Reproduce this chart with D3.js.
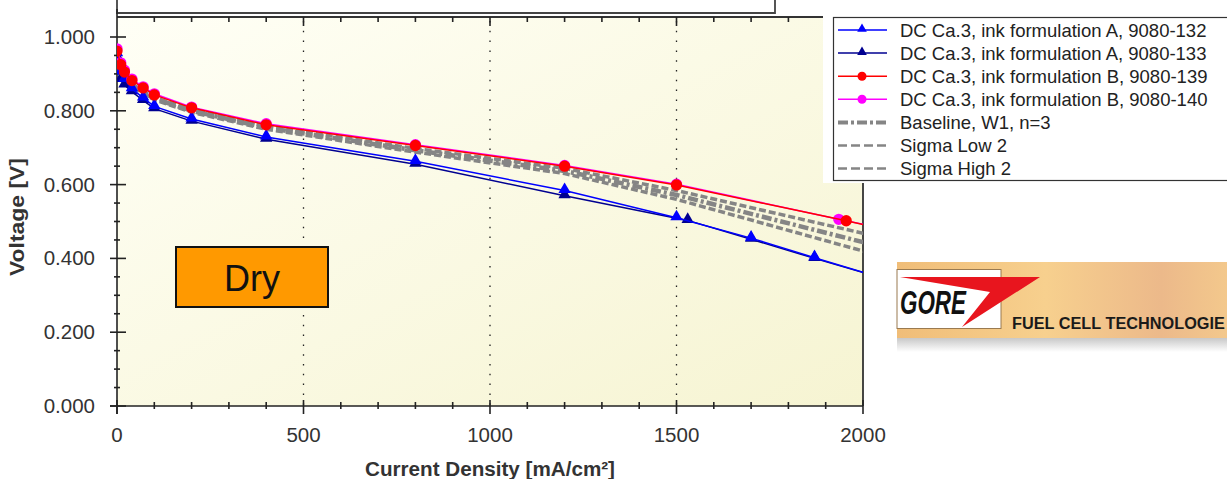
<!DOCTYPE html>
<html>
<head>
<meta charset="utf-8">
<script src="https://cdn.jsdelivr.net/npm/d3@7"></script>
<style>
  html, body { margin: 0; padding: 0; background: #fff; }
  svg { display: block; font-family: "Liberation Sans", Arial, sans-serif; }
</style>
</head>
<body>
<div id="chart"></div>
<script>
(function () {
  "use strict";

  // current density points [mA/cm2]
  const xA132 = [0, 10, 20, 40, 70, 100, 200, 400, 800, 1200, 1500, 1700, 1870, 2040];
  const vA132 = [0.955, 0.905, 0.885, 0.860, 0.835, 0.812, 0.778, 0.729, 0.663, 0.584, 0.510, 0.455, 0.402, 0.350];
  const xA133 = [0, 10, 20, 40, 70, 100, 200, 400, 800, 1200, 1530, 1700, 1870, 2040];
  const vA133 = [0.945, 0.885, 0.870, 0.852, 0.828, 0.806, 0.772, 0.723, 0.655, 0.570, 0.503, 0.452, 0.400, 0.350];
  const xB139 = [0, 10, 20, 40, 70, 100, 200, 400, 800, 1200, 1500, 1955, 2100];
  const vB139 = [0.962, 0.925, 0.905, 0.882, 0.862, 0.843, 0.808, 0.762, 0.706, 0.650, 0.599, 0.502, 0.470];
  const xB140 = [0, 10, 20, 40, 70, 100, 200, 400, 800, 1200, 1500, 1935, 2100];
  const vB140 = [0.968, 0.930, 0.910, 0.886, 0.865, 0.846, 0.810, 0.765, 0.708, 0.652, 0.601, 0.506, 0.472];
  const xBase = [0, 10, 20, 40, 70, 100, 200, 400, 800, 1200, 1500, 2000, 2100];
  const vBase = [0.962, 0.912, 0.893, 0.870, 0.850, 0.833, 0.800, 0.754, 0.693, 0.637, 0.572, 0.444, 0.418];
  const vSigLow = [0.959, 0.909, 0.890, 0.867, 0.847, 0.830, 0.796, 0.750, 0.688, 0.630, 0.560, 0.420, 0.390];
  const vSigHigh = [0.965, 0.915, 0.896, 0.873, 0.853, 0.836, 0.804, 0.758, 0.698, 0.644, 0.584, 0.468, 0.446];

  const xTicks = [0, 500, 1000, 1500, 2000];
  const yTicks = [0, 0.2, 0.4, 0.6, 0.8, 1.0];
  const legendLabels = [
    "DC Ca.3, ink formulation A, 9080-132",
    "DC Ca.3, ink formulation A, 9080-133",
    "DC Ca.3, ink formulation B, 9080-139",
    "DC Ca.3, ink formulation B, 9080-140",
    "Baseline, W1, n=3",
    "Sigma Low 2",
    "Sigma High 2"
  ];

  const width = 1227, height = 479;
  const left = 117, right = 863, top = 17, bottom = 406;

  const x = d3.scaleLinear().domain([0, 2000]).range([left, right]);
  const y = d3.scaleLinear().domain([0, 1]).range([bottom, 37]);

  const svg = d3.select("#chart").append("svg")
    .attr("width", width).attr("height", height);

  const defs = svg.append("defs");
  const bg = defs.append("linearGradient").attr("id", "plotbg")
    .attr("x1", "0").attr("y1", "0").attr("x2", "1").attr("y2", "1");
  bg.append("stop").attr("offset", "0").attr("stop-color", "#fffff6");
  bg.append("stop").attr("offset", "1").attr("stop-color", "#f6f4d2");
  defs.append("clipPath").attr("id", "plotclip").append("rect")
    .attr("x", left).attr("y", top).attr("width", right - left).attr("height", bottom - top);

  // plot background
  svg.append("rect").attr("x", left).attr("y", top)
    .attr("width", right - left).attr("height", bottom - top)
    .attr("fill", "url(#plotbg)");

  // dotted grid lines
  svg.append("g").selectAll("line").data([500, 1000, 1500]).join("line")
    .attr("x1", (d) => x(d)).attr("x2", (d) => x(d))
    .attr("y1", top + 4).attr("y2", bottom)
    .attr("stroke", "#222").attr("stroke-width", 1.3)
    .attr("stroke-dasharray", "1.5,8.3");

  // frame of the overlapping box at the top
  svg.append("path").attr("d", `M${left},0V13H775V0`)
    .attr("fill", "none").attr("stroke", "#444").attr("stroke-width", 1.8);

  // plot frame
  svg.append("path").attr("d", `M${left},${top}H${right}V${bottom}`)
    .attr("fill", "none").attr("stroke", "#333").attr("stroke-width", 1.8);

  // axes
  const axisG = svg.append("g").attr("stroke", "#222").attr("stroke-width", 1.6);
  axisG.append("line").attr("x1", left).attr("x2", left).attr("y1", top - 8).attr("y2", bottom + 8);
  axisG.append("line").attr("x1", left - 7).attr("x2", right).attr("y1", bottom).attr("y2", bottom);

  const xMinor = d3.range(0, 2001, 100);
  axisG.selectAll(".xt").data(xMinor).join("line")
    .attr("x1", (d) => x(d)).attr("x2", (d) => x(d))
    .attr("y1", (d) => (d % 500 === 0 ? bottom - 6 : bottom - 4))
    .attr("y2", (d) => (d % 500 === 0 ? bottom + 8 : bottom + 3));
  axisG.selectAll(".xtt").data(xMinor.filter((d) => d > 0 && d < 2000)).join("line")
    .attr("x1", (d) => x(d)).attr("x2", (d) => x(d))
    .attr("y1", top)
    .attr("y2", (d) => (d % 500 === 0 ? top + 9 : top + 5));

  const yMinor = d3.range(0, 21).map((i) => i * 0.05);
  axisG.selectAll(".yt").data(yMinor).join("line")
    .attr("y1", (d) => y(d)).attr("y2", (d) => y(d))
    .attr("x1", (d, i) => (i % 4 === 0 ? left - 7 : left - 3))
    .attr("x2", (d, i) => (i % 4 === 0 ? left + 9 : left + 3));

  svg.append("g").selectAll("text").data(xTicks).join("text")
    .attr("x", (d) => x(d)).attr("y", 442)
    .attr("text-anchor", "middle").attr("font-size", 20.5).attr("fill", "#333")
    .text((d) => d);
  svg.append("g").selectAll("text").data(yTicks).join("text")
    .attr("x", 95).attr("y", (d) => y(d) + 7)
    .attr("text-anchor", "end").attr("font-size", 20.5).attr("fill", "#333")
    .text((d) => d.toFixed(3));

  svg.append("text").attr("x", 490).attr("y", 476)
    .attr("text-anchor", "middle").attr("font-size", 20).attr("font-weight", "bold")
    .attr("textLength", 250).attr("lengthAdjust", "spacingAndGlyphs")
    .attr("fill", "#333").text("Current Density [mA/cm²]");
  svg.append("text").attr("transform", "translate(24,217) rotate(-90)")
    .attr("text-anchor", "middle").attr("font-size", 20).attr("font-weight", "bold")
    .attr("textLength", 118).attr("lengthAdjust", "spacingAndGlyphs")
    .attr("fill", "#333").text("Voltage [V]");

  // series
  const line = d3.line().x((d) => x(d[0])).y((d) => y(d[1]));
  const plot = svg.append("g").attr("clip-path", "url(#plotclip)");
  const zip = (xs, vs) => xs.map((d, i) => [d, vs[i]]);

  const grayLines = [
    { data: zip(xBase, vSigLow), dash: "7,3", w: 3.5 },
    { data: zip(xBase, vSigHigh), dash: "7,3", w: 3.5 },
    { data: zip(xBase, vBase), dash: "10,3,3,3", w: 4.5 }
  ];
  plot.selectAll(".gray").data(grayLines).join("path")
    .attr("d", (d) => line(d.data))
    .attr("fill", "none").attr("stroke", "#858585")
    .attr("stroke-width", (d) => d.w).attr("stroke-dasharray", (d) => d.dash);

  const series = [
    { data: zip(xA133, vA133), color: "#000090", marker: "tri" },
    { data: zip(xA132, vA132), color: "#0000ff", marker: "tri" },
    { data: zip(xB140, vB140), color: "#ff00ff", marker: "dot" },
    { data: zip(xB139, vB139), color: "#ff0000", marker: "dot" }
  ];
  const tri = d3.symbol().type(d3.symbolTriangle).size(66);

  series.forEach((s) => {
    plot.append("path").attr("d", line(s.data))
      .attr("fill", "none").attr("stroke", s.color).attr("stroke-width", 1.5);
    const m = plot.append("g").selectAll("path").data(s.data).join("path")
      .attr("fill", s.color);
    if (s.marker === "tri") {
      m.attr("d", tri).attr("transform", (d) => `translate(${x(d[0])},${y(d[1]) - 1})`);
    } else {
      m.attr("d", d3.symbol().type(d3.symbolCircle).size(100))
        .attr("transform", (d) => `translate(${x(d[0])},${y(d[1])})`);
    }
  });

  // Dry label
  svg.append("rect").attr("x", 176).attr("y", 247).attr("width", 152).attr("height", 60)
    .attr("fill", "#ff9900").attr("stroke", "#111").attr("stroke-width", 2);
  svg.append("text").attr("x", 252).attr("y", 291).attr("text-anchor", "middle")
    .attr("font-size", 36).attr("fill", "#111").text("Dry");

  // legend
  svg.append("rect").attr("x", 823).attr("y", 0).attr("width", 404).attr("height", 183).attr("fill", "#fff");
  svg.append("rect").attr("x", 833.5).attr("y", 17.5).attr("width", 420).attr("height", 163)
    .attr("fill", "#fff").attr("stroke", "#333").attr("stroke-width", 1.2);
  const legendStyle = [
    { color: "#0000ff", marker: "tri", dash: null, w: 1.5 },
    { color: "#000090", marker: "tri", dash: null, w: 1.5 },
    { color: "#ff0000", marker: "dot", dash: null, w: 1.5 },
    { color: "#ff00ff", marker: "dot", dash: null, w: 1.5 },
    { color: "#858585", marker: null, dash: "10,3,3,3", w: 4 },
    { color: "#858585", marker: null, dash: "9,4", w: 2.5 },
    { color: "#858585", marker: null, dash: "9,4", w: 2.5 }
  ];
  const lg = svg.append("g").selectAll("g").data(legendLabels).join("g")
    .attr("transform", (d, i) => `translate(0,${30 + i * 23.1})`);
  lg.append("line").attr("x1", 838).attr("x2", 887).attr("y1", 0).attr("y2", 0)
    .attr("stroke", (d, i) => legendStyle[i].color)
    .attr("stroke-width", (d, i) => legendStyle[i].w)
    .attr("stroke-dasharray", (d, i) => legendStyle[i].dash);
  lg.filter((d, i) => legendStyle[i].marker === "tri").append("path")
    .attr("d", d3.symbol().type(d3.symbolTriangle).size(40))
    .attr("transform", "translate(862,-1)")
    .attr("fill", (d) => legendStyle[legendLabels.indexOf(d)].color);
  lg.filter((d, i) => legendStyle[i].marker === "dot").append("circle")
    .attr("cx", 862).attr("cy", 0).attr("r", 4.5)
    .attr("fill", (d) => legendStyle[legendLabels.indexOf(d)].color);
  lg.append("text").attr("x", 900).attr("y", 6.5)
    .attr("font-size", 18.5).attr("fill", "#222").text((d) => d);

  // GORE logo banner
  const band = defs.append("linearGradient").attr("id", "band")
    .attr("x1", "0").attr("y1", "0").attr("x2", "1").attr("y2", "0");
  band.append("stop").attr("offset", "0").attr("stop-color", "#f0bd78");
  band.append("stop").attr("offset", "0.45").attr("stop-color", "#f7d08e");
  band.append("stop").attr("offset", "0.8").attr("stop-color", "#ecb98a");
  band.append("stop").attr("offset", "1").attr("stop-color", "#f3c88c");
  const shade = defs.append("linearGradient").attr("id", "shade")
    .attr("x1", "0").attr("y1", "0").attr("x2", "0").attr("y2", "1");
  shade.append("stop").attr("offset", "0").attr("stop-color", "#c8c8c8");
  shade.append("stop").attr("offset", "1").attr("stop-color", "#ffffff");

  svg.append("rect").attr("x", 897).attr("y", 338).attr("width", 330).attr("height", 14).attr("fill", "url(#shade)");
  svg.append("rect").attr("x", 897).attr("y", 262).attr("width", 330).attr("height", 76).attr("fill", "url(#band)");
  svg.append("rect").attr("x", 897).attr("y", 269.5).attr("width", 104).attr("height", 59)
    .attr("fill", "#fff").attr("stroke", "#9a7a50").attr("stroke-width", 1);
  svg.append("path").attr("d", "M900,277L1040,277L962,327L990,292Z").attr("fill", "#e8151e");
  svg.append("text").attr("x", 900).attr("y", 314)
    .attr("font-family", "'Liberation Sans Narrow', 'Liberation Sans', sans-serif")
    .attr("font-size", 33).attr("font-weight", "bold").attr("font-style", "italic")
    .attr("textLength", 66).attr("lengthAdjust", "spacingAndGlyphs")
    .attr("fill", "#111").text("GORE");
  svg.append("text").attr("x", 1012).attr("y", 329)
    .attr("font-size", 16.3).attr("font-weight", "bold")
    .attr("fill", "#1a1a1a").text("FUEL CELL TECHNOLOGIE");
})();
</script>
</body>
</html>
